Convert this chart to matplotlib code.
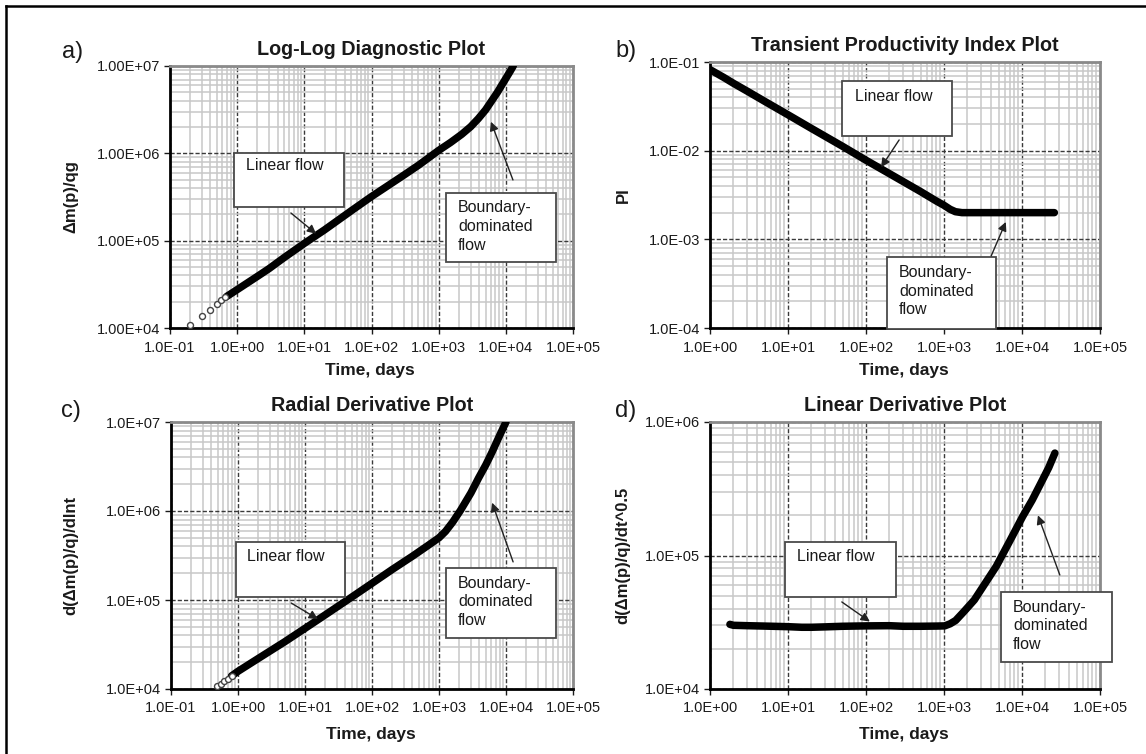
import numpy as np
import matplotlib
matplotlib.use("Agg")
import matplotlib.pyplot as plt
from matplotlib.patches import Rectangle
from matplotlib.lines import Line2D
from matplotlib.ticker import LogLocator, FuncFormatter, NullFormatter

plt.rcParams['font.family'] = ['Liberation Sans', 'DejaVu Sans']

# a) log-log diagnostic: delta m(p)/qg vs time
t_a_early = [0.2, 0.3, 0.4, 0.5, 0.58, 0.66]
dm_a_early = [1.07e4, 1.38e4, 1.62e4, 1.9e4, 2.1e4, 2.25e4]
t_a = [0.7, 1, 2, 3, 5, 10, 20, 50, 100, 155, 300, 500, 1000, 1500, 2200,
       3000, 3900, 5000, 6100, 7500, 8600, 10000, 11500, 12900]
dm_a = [2.3e4, 2.75e4, 3.9e4, 4.8e4, 6.4e4, 9.3e4, 1.33e5, 2.2e5, 3.2e5, 4.0e5,
        5.6e5, 7.3e5, 1.08e6, 1.33e6, 1.65e6, 2.02e6, 2.5e6, 3.15e6, 3.95e6,
        5.0e6, 5.95e6, 7.2e6, 8.6e6, 1.0e7]

# b) transient productivity index
t_b = [1, 1.5, 2, 3, 5, 10, 20, 50, 100, 200, 500, 800, 1000, 1200, 1400,
       1700, 2000, 3000, 5000, 10000, 20000, 26000]
pi_b = [0.082, 0.067, 0.0575, 0.0469, 0.0361, 0.0254, 0.0178, 0.0112, 0.0078,
        0.0055, 0.00346, 0.0027, 0.00242, 0.00218, 0.00205, 0.002, 0.002,
        0.002, 0.002, 0.002, 0.002, 0.002]

# c) radial derivative
t_c_early = [0.48, 0.55, 0.62, 0.7, 0.8]
d_c_early = [1.07e4, 1.15e4, 1.22e4, 1.3e4, 1.4e4]
t_c = [0.8, 1, 2, 5, 10, 20, 50, 100, 200, 400, 670, 1000, 1250, 1600, 2100,
       3000, 3900, 5000, 6200, 8000, 10000]
d_c = [1.4e4, 1.58e4, 2.2e4, 3.4e4, 4.8e4, 6.8e4, 1.08e5, 1.54e5, 2.2e5, 3.1e5,
       4.05e5, 5.0e5, 5.9e5, 7.5e5, 1.02e6, 1.6e6, 2.35e6, 3.3e6, 4.6e6, 7.0e6,
       1.0e7]

# d) linear derivative
t_d = [1.8, 2, 3, 5, 10, 15, 20, 30, 50, 100, 200, 300, 500, 800, 1020, 1200,
       1410, 1800, 2450, 3500, 4680, 7000, 10200, 13500, 17300, 22000, 26400]
d_d = [3.05e4, 3.0e4, 2.98e4, 2.96e4, 2.93e4, 2.9e4, 2.9e4, 2.92e4, 2.95e4,
       2.97e4, 2.98e4, 2.95e4, 2.95e4, 2.96e4, 2.97e4, 3.08e4, 3.26e4, 3.8e4,
       4.65e4, 6.4e4, 8.3e4, 1.29e5, 1.96e5, 2.6e5, 3.45e5, 4.55e5, 5.85e5]

fig = plt.figure(figsize=(11.46, 7.54), dpi=100)
fig.patch.set_facecolor('white')

TXT = '#1a1a1a'


def fmt(decimals):
    return FuncFormatter(lambda v, p: f"{v:.{decimals}E}")


def setup(ax, xlim, ylim, ydec, title, ylabel, ylab_x, xlab_y):
    ax.set_xscale('log')
    ax.set_yscale('log')
    ax.set_xlim(*xlim)
    ax.set_ylim(*ylim)
    for a in (ax.xaxis, ax.yaxis):
        a.set_major_locator(LogLocator(base=10, numticks=20))
        a.set_minor_locator(LogLocator(base=10, subs=np.arange(2, 10), numticks=20))
        a.set_minor_formatter(NullFormatter())
    ax.xaxis.set_major_formatter(fmt(1))
    ax.yaxis.set_major_formatter(fmt(ydec))
    ax.grid(True, which='minor', color='#c8c8c8', lw=1.1, zorder=0)
    ax.grid(True, which='major', color='#3a3a3a', lw=1.0,
            linestyle=(0, (3, 1.5)), zorder=0)
    ax.set_axisbelow(True)
    ax.tick_params(which='major', direction='out', length=4, width=1,
                   labelsize=10.5, colors=TXT, top=False, right=False)
    ax.tick_params(axis='x', pad=5)
    ax.tick_params(axis='y', pad=3)
    ax.tick_params(which='minor', length=0)
    for s in ('left', 'bottom'):
        ax.spines[s].set_color('black')
        ax.spines[s].set_linewidth(2)
    for s in ('top', 'right'):
        ax.spines[s].set_color('#8a8a8a')
        ax.spines[s].set_linewidth(2)
    ax.set_title(title, fontsize=14.2, fontweight='bold', color=TXT, pad=8)
    ax.set_ylabel(ylabel, fontsize=12, fontweight='bold', color=TXT)
    ax.yaxis.set_label_coords(ylab_x, 0.5)
    ax.set_xlabel('Time, days', fontsize=12.5, fontweight='bold', color=TXT)
    ax.xaxis.set_label_coords(0.496, xlab_y)


def curve(ax, t, y):
    ax.plot(t, y, color='black', lw=5.4, solid_capstyle='round',
            solid_joinstyle='round', zorder=3)


def early(ax, t, y):
    ax.plot(t, y, linestyle='none', marker='o', ms=4.3, mfc='white',
            mec='#444444', mew=1.0, zorder=3)


def note(ax, box, text, tx, ty, tail, head):
    x0, y0, x1, y1 = box
    ax.add_patch(Rectangle((x0, y0), x1 - x0, y1 - y0, transform=ax.transAxes,
                           facecolor='white', edgecolor='#4a4a4a', lw=1.3,
                           zorder=5, clip_on=False))
    ax.text(tx, ty, text, transform=ax.transAxes, fontsize=11.5, color=TXT,
            ha='left', va='top', linespacing=1.3, zorder=6, clip_on=False)
    ax.annotate('', xy=head, xycoords='data', xytext=tail,
                textcoords='axes fraction',
                arrowprops=dict(arrowstyle='-|>', color='#222222', lw=1.0,
                                mutation_scale=13, shrinkA=0, shrinkB=0),
                zorder=6)


W, H = 1146, 754


def rect(l, r, t, b):
    return [l / W, 1 - b / H, (r - l) / W, (b - t) / H]


bdf = 'Boundary-\ndominated\nflow'

# a)
ax = fig.add_axes(rect(170, 573, 66, 328))
setup(ax, (1e-1, 1e5), (1e4, 1e7), 2, 'Log-Log Diagnostic Plot',
      '\u0394m(p)/qg', -0.228, -0.134)
curve(ax, t_a, dm_a)
early(ax, t_a_early, dm_a_early)
note(ax, (0.159, 0.462, 0.432, 0.668), 'Linear flow', 0.189, 0.648,
     (0.300, 0.439), (15, 1.2e5))
note(ax, (0.685, 0.252, 0.958, 0.515), bdf, 0.715, 0.487,
     (0.851, 0.565), (6.0e3, 2.3e6))

# b)
ax = fig.add_axes(rect(710, 1100, 62, 328))
setup(ax, (1e0, 1e5), (1e-4, 1e-1), 1, 'Transient Productivity Index Plot',
      'PI', -0.203, -0.132)
curve(ax, t_b, pi_b)
note(ax, (0.338, 0.722, 0.621, 0.929), 'Linear flow', 0.372, 0.900,
     (0.485, 0.707), (156, 6.5e-3))
note(ax, (0.454, -0.004, 0.733, 0.267), bdf, 0.485, 0.236,
     (0.721, 0.271), (6.2e3, 1.57e-3))

# c)
ax = fig.add_axes(rect(171, 573, 422, 689))
setup(ax, (1e-1, 1e5), (1e4, 1e7), 1, 'Radial Derivative Plot',
      'd(\u0394m(p)/q)/dlnt', -0.231, -0.142)
curve(ax, t_c, d_c)
early(ax, t_c_early, d_c_early)
note(ax, (0.162, 0.345, 0.433, 0.551), 'Linear flow', 0.189, 0.524,
     (0.299, 0.322), (15.6, 6.1e4))
note(ax, (0.684, 0.191, 0.958, 0.453), bdf, 0.714, 0.425,
     (0.851, 0.476), (6.2e3, 1.24e6))

# d)
ax = fig.add_axes(rect(710, 1100, 422, 689))
setup(ax, (1e0, 1e5), (1e4, 1e6), 1, 'Linear Derivative Plot',
      'd(\u0394m(p)/q)/dt^0.5', -0.203, -0.142)
curve(ax, t_d, d_d)
note(ax, (0.192, 0.345, 0.477, 0.551), 'Linear flow', 0.223, 0.526,
     (0.338, 0.326), (112, 3.2e4))
note(ax, (0.746, 0.101, 1.031, 0.363), bdf, 0.777, 0.334,
     (0.897, 0.427), (1.6e4, 2.0e5))

# panel letters
for lx, ly, s in [(73, 52, 'a)'), (626, 51, 'b)'), (71, 411, 'c)'), (626, 411, 'd)')]:
    fig.text(lx / W, 1 - ly / H, s, fontsize=17, color=TXT, ha='center', va='center')

# outer frame (left and top)
fig.add_artist(Line2D([6 / W, 6 / W], [0, 1 - 6 / H], color='black', lw=1.8,
                      transform=fig.transFigure))
fig.add_artist(Line2D([6 / W, 1], [1 - 6 / H, 1 - 6 / H], color='black', lw=1.8,
                      transform=fig.transFigure))

fig.savefig('out.png', dpi=100, facecolor='white')
